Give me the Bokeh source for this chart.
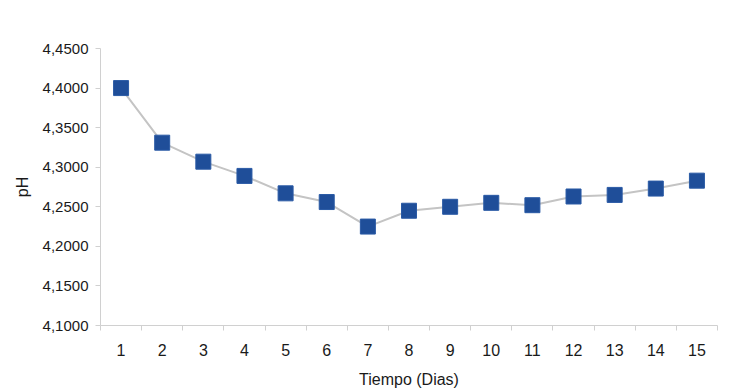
from bokeh.plotting import figure
from bokeh.models import FixedTicker, ColumnDataSource
from bokeh.embed import file_html
from bokeh.resources import INLINE

dias = list(range(1, 16))
ph = [4.400, 4.331, 4.307, 4.289, 4.267, 4.256, 4.225, 4.245, 4.250, 4.255,
      4.252, 4.263, 4.265, 4.273, 4.283]
y_ticks = [4.10, 4.15, 4.20, 4.25, 4.30, 4.35, 4.40, 4.45]
y_tick_labels = ["4,1000", "4,1500", "4,2000", "4,2500", "4,3000", "4,3500", "4,4000", "4,4500"]
x_label = "Tiempo (Dias)"
y_label = "pH"

FONT = "Liberation Sans"
GRAY = "#d0d0d0"
TXT = "#1a1a1a"

src = ColumnDataSource(dict(x=dias, y=ph))

p = figure(width=732, height=390, output_backend="svg", toolbar_location=None,
           x_range=(0.5, 15.5), y_range=(4.10, 4.45),
           min_border_left=100, min_border_right=15, min_border_top=48, min_border_bottom=63)
p.outline_line_color = None
p.xgrid.visible = False
p.ygrid.visible = False

p.line("x", "y", source=src, line_color="#c4c4c4", line_width=2)
p.scatter("x", "y", source=src, marker="square", size=15, fill_color="#1f4e99",
          line_color="#2a5aa5", line_width=1)

# y axis
p.yaxis.ticker = FixedTicker(ticks=y_ticks)
p.yaxis.major_label_overrides = {t: l for t, l in zip(y_ticks, y_tick_labels)}
p.yaxis.axis_line_color = GRAY
p.yaxis.major_tick_line_color = GRAY
p.yaxis.major_tick_out = 5
p.yaxis.major_tick_in = 0
p.yaxis.minor_tick_line_color = None
p.yaxis.major_label_text_font = FONT
p.yaxis.major_label_text_font_size = "15px"
p.yaxis.major_label_text_color = TXT
p.yaxis.major_label_standoff = 7
p.yaxis.axis_label = y_label
p.yaxis.axis_label_text_font = FONT
p.yaxis.axis_label_text_font_size = "16px"
p.yaxis.axis_label_text_font_style = "normal"
p.yaxis.axis_label_text_color = TXT
p.yaxis.axis_label_standoff = 9

# x axis
p.xaxis.ticker = FixedTicker(ticks=dias, minor_ticks=[d + 0.5 for d in [0] + dias])
p.xaxis.axis_line_color = GRAY
p.xaxis.major_tick_line_color = None
p.xaxis.minor_tick_line_color = GRAY
p.xaxis.minor_tick_out = 5
p.xaxis.minor_tick_in = 0
p.xaxis.major_label_text_font = FONT
p.xaxis.major_label_text_font_size = "16px"
p.xaxis.major_label_text_color = TXT
p.xaxis.major_label_standoff = 12
p.xaxis.axis_label = x_label
p.xaxis.axis_label_text_font = FONT
p.xaxis.axis_label_text_font_size = "16px"
p.xaxis.axis_label_text_font_style = "normal"
p.xaxis.axis_label_text_color = TXT
p.xaxis.axis_label_standoff = 12

open("out.html", "w").write(file_html(p, INLINE))
